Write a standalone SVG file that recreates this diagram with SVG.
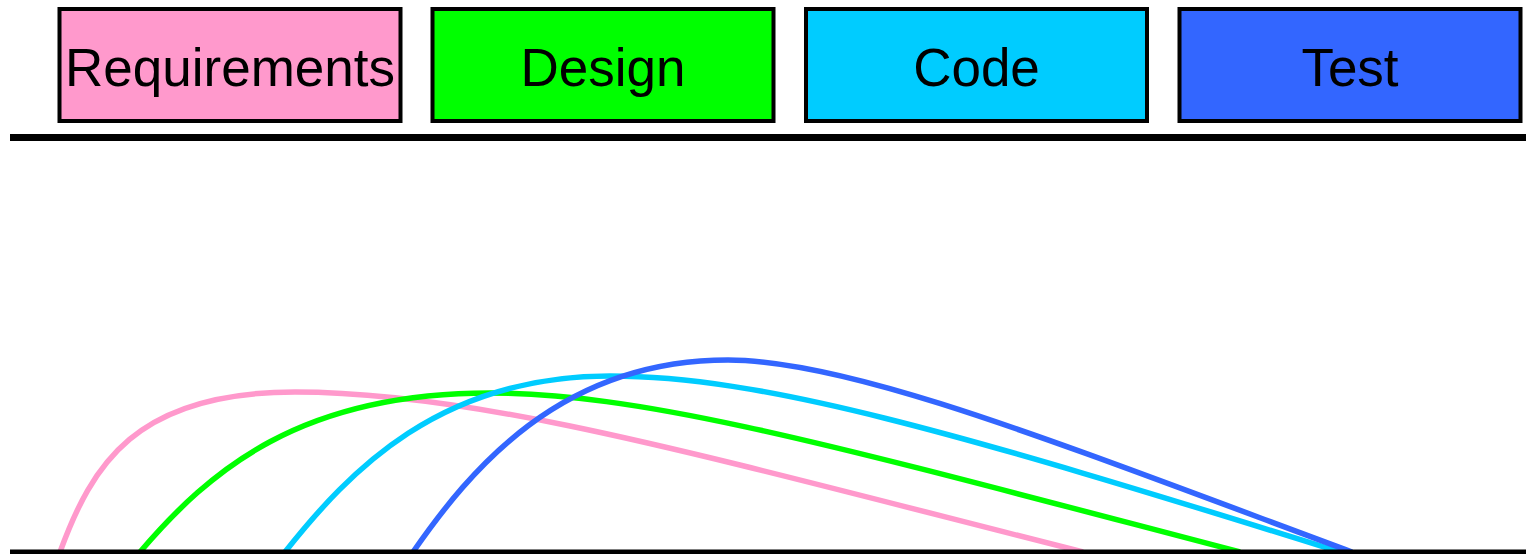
<svg xmlns="http://www.w3.org/2000/svg" width="1526" height="554" viewBox="0 0 1526 554">
  <style>
    .box { stroke: #000; stroke-width: 4; }
    .label { font-family: "Liberation Sans", Arial, sans-serif; font-size: 53px; fill: #000; text-anchor: middle; }
    .rule { stroke: #000; fill: none; }
    .curve { fill: none; stroke-width: 5.5; stroke-linecap: butt; }
  </style>
  <rect width="1526" height="554" fill="#fff"/>

  <!-- phase boxes -->
  <g id="requirements">
    <rect class="box" x="59.5" y="9" width="341" height="112" fill="#FF99CC"/>
    <text class="label" x="230" y="86">Requirements</text>
  </g>
  <g id="design">
    <rect class="box" x="432.5" y="9" width="341" height="112" fill="#00FF00"/>
    <text class="label" x="603" y="86">Design</text>
  </g>
  <g id="code">
    <rect class="box" x="806" y="9" width="341" height="112" fill="#00CCFF"/>
    <text class="label" x="976.5" y="86">Code</text>
  </g>
  <g id="test">
    <rect class="box" x="1179.5" y="9" width="341" height="112" fill="#3366FF"/>
    <text class="label" x="1350" y="86">Test</text>
  </g>

  <!-- separator under the phase boxes -->
  <line class="rule" x1="10" y1="137.5" x2="1526" y2="137.5" stroke-width="7"/>

  <!-- effort curves per phase -->
  <g id="connectors">
    <path class="curve" stroke="#FF99CC" d="M60,552 C92,465 135,392 295,392 C480,392 700,455 1083,552"/>
    <path class="curve" stroke="#00FF00" d="M140,552 C210,470 300,393 490,393 C650,393 850,450 1240,552"/>
    <path class="curve" stroke="#00CCFF" d="M285,552 C350,470 440,376 610,376 C760,376 950,430 1340,552"/>
    <path class="curve" stroke="#3366FF" d="M413,552 C470,470 560,360 728,360 C850,360 1050,440 1352,552"/>
  </g>

  <!-- time axis -->
  <line class="rule" x1="10" y1="552" x2="1526" y2="552" stroke-width="5"/>
</svg>
